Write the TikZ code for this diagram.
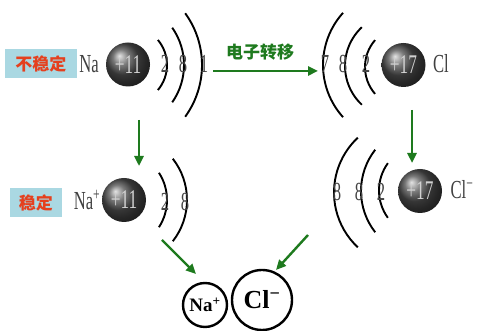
\documentclass[tikz,border=0pt]{standalone}
\usepackage{fontspec}
\setmainfont{Liberation Serif}
\newfontfamily\cond[FakeStretch=0.64]{Liberation Serif}
\newfontfamily\cjk{Noto Sans CJK SC}
\usetikzlibrary{arrows.meta}
\definecolor{arrowgreen}{HTML}{1E7A1E}
\definecolor{labelred}{HTML}{E5401E}
\definecolor{labelbox}{HTML}{AAD8E2}
\definecolor{digitgray}{HTML}{444444}
\tikzset{
  nucleus/.style={circle, minimum size=44pt, inner sep=0pt, shading=ball,
    ball color=black!70, text=black!18, font=\cond\fontsize{27}{27}\selectfont},
  shell/.style={line width=1.9pt, black},
  digit/.style={inner sep=0pt, text=digitgray, font=\cond\fontsize{26}{26}\selectfont},
  element/.style={inner sep=0pt, text=black!75, font=\cond\fontsize{26}{26}\selectfont},
  statebox/.style={fill=labelbox, inner sep=0pt, text=labelred,
    font=\cjk\bfseries\fontsize{17}{17}\selectfont},
  flow/.style={line width=2.4pt, arrowgreen, -{Triangle[length=10pt,width=9pt]}},
  ion/.style={circle, draw=black, line width=2.4pt, inner sep=0pt,
    font=\bfseries}
}
\begin{document}
\begin{tikzpicture}[x=1pt,y=1pt]
\useasboundingbox (0,0) rectangle (480,331);

% --- sodium atom (top left) ---
\node[statebox, minimum width=72pt, minimum height=29pt] (unstable) at (41,267.5) {不稳定};
\node[element] (na) at (89,267) {Na};
\node[nucleus] (naNuc) at (128,266.5) {+11};
\draw[shell] (128,266) ++(40:39) arc[start angle=40, end angle=-40, radius=39];
\draw[shell] (119,266) ++(35:65) arc[start angle=35, end angle=-35, radius=65];
\draw[shell] (114,266) ++(36:88) arc[start angle=36, end angle=-36, radius=88];
\node[digit] (na1) at (165,267) {2};
\node[digit] (na2) at (183,267) {8};
\node[digit] (na3) at (204,267) {1};

% --- chlorine atom (top right) ---
\node[nucleus] (clNuc) at (403.5,266) {+17};
\node[element] (cl) at (441,267) {Cl};
\draw[shell] (406,264) ++(139:41) arc[start angle=139, end angle=221, radius=41];
\draw[shell] (398,265) ++(133:53) arc[start angle=133, end angle=227, radius=53];
\draw[shell] (401,266) ++(138:78) arc[start angle=138, end angle=222, radius=78];
\node[digit] (cl1) at (325,267) {7};
\node[digit] (cl2) at (343,267) {8};
\node[digit] (cl3) at (366,267) {2};

% --- electron transfer ---
\coordinate (tStart) at (213,260);
\coordinate (tEnd) at (318,260);
\draw[flow] (tStart) -- (tEnd);
\node[text=arrowgreen, font=\cjk\bfseries\fontsize{17}{17}\selectfont] (transfer) at (260,279) {电子转移};

% --- sodium ion (bottom left) ---
\node[statebox, minimum width=52pt, minimum height=29pt] (stable) at (36,128.5) {稳定};
\node[element] (naIon) at (87,131) {Na\textsuperscript{+}};
\node[nucleus] (naIonNuc) at (124,131) {+11};
\draw[shell] (117,131) ++(33:50) arc[start angle=33, end angle=-33, radius=50];
\draw[shell] (120,131) ++(38:67) arc[start angle=38, end angle=-38, radius=67];
\node[digit] (nai1) at (165,129) {2};
\node[digit] (nai2) at (185,129) {8};

% --- chloride ion (bottom right) ---
\node[nucleus] (clIonNuc) at (420,140) {+17};
\node[element] (clIon) at (462,141) {Cl\textsuperscript{−}};
\draw[shell] (425.5,140.5) ++(144:46.5) arc[start angle=144, end angle=216, radius=46.5];
\draw[shell] (428,140) ++(142:67) arc[start angle=142, end angle=218, radius=67];
\draw[shell] (409,138.5) ++(133:75) arc[start angle=133, end angle=227, radius=75];
\node[digit] (cli1) at (337,139) {8};
\node[digit] (cli2) at (359,139) {8};
\node[digit] (cli3) at (381,139) {2};

% --- ionic pair ---
\node[ion, minimum size=44pt, font=\bfseries\fontsize{19}{19}\selectfont] (pNa) at (205,26) {Na\textsuperscript{+}};
\node[ion, minimum size=60pt, font=\bfseries\fontsize{26}{26}\selectfont] (pCl) at (262,31) {Cl\textsuperscript{−}};

% --- green flow arrows ---
\coordinate (dA) at (139,211);
\coordinate (dAend) at (139,165);
\coordinate (dB) at (412,221);
\coordinate (dBend) at (412,168);
\coordinate (gA) at (162,91);
\coordinate (gAend) at (196,57);
\coordinate (gB) at (308,96);
\coordinate (gBend) at (276,61);
\draw[flow] (dA) -- (dAend);
\draw[flow] (dB) -- (dBend);
\draw[flow] (gA) -- (gAend);
\draw[flow] (gB) -- (gBend);
\end{tikzpicture}
\end{document}
